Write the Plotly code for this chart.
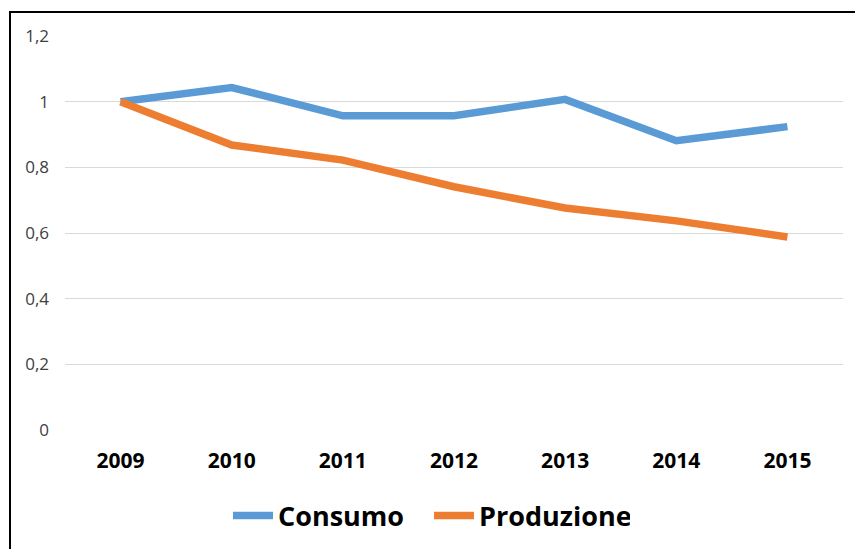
import plotly.graph_objects as go

# ── Data ──
years = ["2009", "2010", "2011", "2012", "2013", "2014", "2015"]
consumo = [1.0, 1.043, 0.957, 0.957, 1.007, 0.881, 0.924]
produzione = [1.0, 0.868, 0.822, 0.741, 0.676, 0.637, 0.588]
y_ticks = [0, 0.2, 0.4, 0.6, 0.8, 1.0, 1.2]

_BLUE = "#5B9BD5"
_ORANGE = "#ED7D31"
_GRID = "#D9D9D9"
_FONT = "Open Sans, sans-serif"

W, H = 855, 549
L, R, T, B = 65, 12, 36, 119
pw, ph = W - L - R, H - T - B


def px_x(x):
    return (x - L) / pw


def px_y(y):
    return (H - B - y) / ph


fig = go.Figure()
fig.add_trace(go.Scatter(
    x=years, y=consumo, name="Consumo", mode="lines",
    line=dict(color=_BLUE, width=7.5),
))
fig.add_trace(go.Scatter(
    x=years, y=produzione, name="Produzione", mode="lines",
    line=dict(color=_ORANGE, width=7.5),
))

# outer frame: only left and top edges show in the reference
fig.add_shape(
    type="rect", xref="paper", yref="paper",
    x0=px_x(10), x1=px_x(920), y0=px_y(600), y1=px_y(12),
    line=dict(color="#000000", width=2), fillcolor="rgba(0,0,0,0)",
    layer="above",
)

fig.update_layout(
    width=W, height=H,
    paper_bgcolor="#FFFFFF", plot_bgcolor="#FFFFFF",
    margin=dict(l=L, r=R, t=T, b=B, autoexpand=False),
    separators=",.",
    font=dict(family=_FONT, color="#404040", size=16),
    xaxis=dict(
        type="category", range=[-0.5, len(years) - 0.5],
        showgrid=False, showline=False, zeroline=False, automargin=False,
        tickfont=dict(size=21, color="#000000", family=_FONT, weight="bold"),
        ticks="", ticklabelstandoff=16,
    ),
    yaxis=dict(
        range=[0, 1.2], tickvals=y_ticks, showgrid=True, gridcolor=_GRID,
        gridwidth=1, zeroline=False, showline=False, automargin=False,
        tickfont=dict(size=17, color="#404040", family=_FONT),
        ticks="", ticklabelstandoff=15,
    ),
    legend=dict(
        orientation="h", x=px_x(228), xanchor="left",
        y=px_y(516), yanchor="middle",
        font=dict(size=27, color="#000000", family=_FONT, weight="bold"),
        itemwidth=40, tracegroupgap=0,
        entrywidth=146, entrywidthmode="pixels",
    ),
    showlegend=True,
)

# page body has a default 8px margin; drop it so the figure fills the window
fig.write_html(
    "out.html",
    config={"displayModeBar": False},
    post_script="document.body.style.margin='0';",
)
